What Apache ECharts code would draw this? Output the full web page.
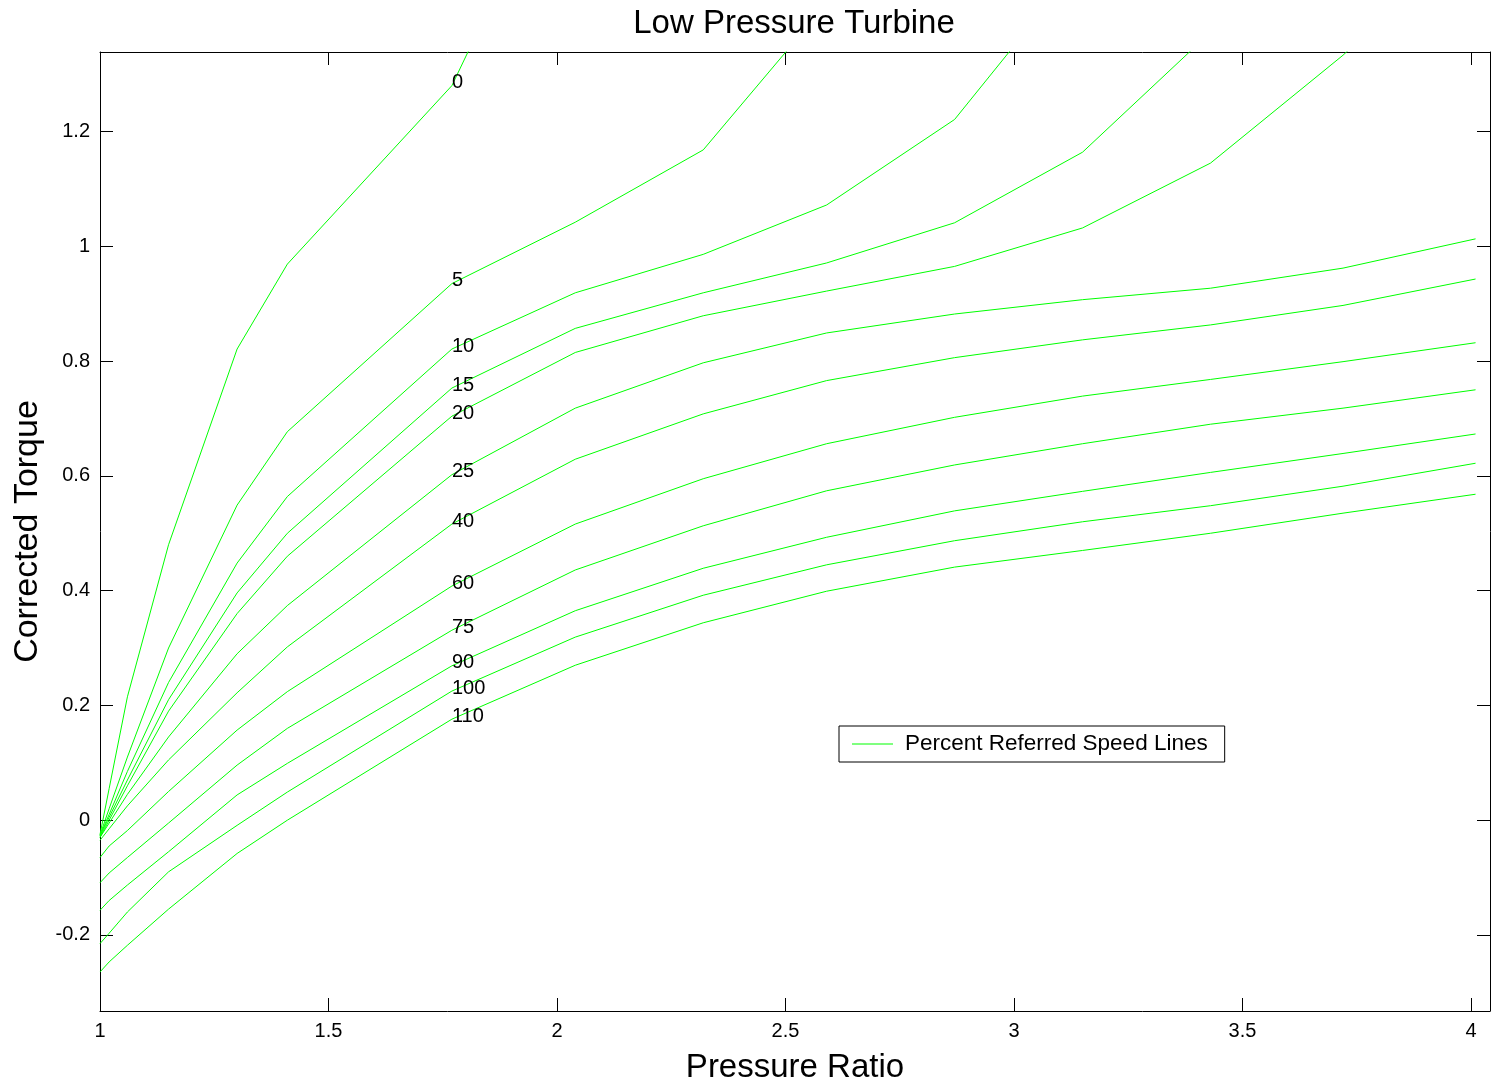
<!DOCTYPE html>
<html>
<head>
<meta charset="utf-8">
<title>Low Pressure Turbine</title>
<script src="https://cdn.jsdelivr.net/npm/echarts@6/dist/echarts.min.js"></script>
<style>
  html, body { margin: 0; padding: 0; background: #fff; }
  #map { width: 1492px; height: 1089px; }
</style>
</head>
<body>
<div id="map"></div>
<script>
// pressure ratio breakpoints of the map
var pressureRatio = [1.00, 1.02, 1.06, 1.15, 1.30, 1.41, 1.77, 2.04, 2.32, 2.59, 2.87, 3.15, 3.43, 3.72, 4.01];

// corrected torque per speed line (null = off the top of the plot)
var torque0   = [-0.025, 0.055, 0.215, 0.48, 0.821, 0.969, 1.280, 1.73, null, null, null, null, null, null, null];
var torque5   = [-0.026, 0.02, 0.11, 0.30, 0.549, 0.677, 0.935, 1.042, 1.168, 1.423, null, null, null, null, null];
var torque10  = [-0.027, 0.01, 0.085, 0.24, 0.448, 0.564, 0.821, 0.919, 0.986, 1.072, 1.221, 1.497, null, null, null];
var torque15  = [-0.028, 0.005, 0.07, 0.21, 0.396, 0.500, 0.753, 0.857, 0.919, 0.971, 1.041, 1.164, 1.373, null, null];
var torque20  = [-0.03, 0.0, 0.06, 0.19, 0.360, 0.460, 0.704, 0.815, 0.879, 0.922, 0.965, 1.032, 1.145, 1.333, 1.55];
var torque25  = [-0.03, -0.005, 0.045, 0.145, 0.29, 0.374, 0.602, 0.718, 0.797, 0.849, 0.882, 0.907, 0.927, 0.962, 1.013];
var torque40  = [-0.035, -0.015, 0.025, 0.105, 0.222, 0.302, 0.516, 0.629, 0.708, 0.766, 0.806, 0.837, 0.863, 0.897, 0.943];
var torque60  = [-0.065, -0.045, -0.018, 0.05, 0.157, 0.224, 0.408, 0.516, 0.595, 0.656, 0.702, 0.739, 0.768, 0.799, 0.832];
var torque75  = [-0.109, -0.092, -0.065, -0.005, 0.096, 0.160, 0.331, 0.436, 0.513, 0.574, 0.619, 0.656, 0.690, 0.718, 0.750];
var torque90  = [-0.157, -0.14, -0.113, -0.055, 0.044, 0.099, 0.269, 0.365, 0.439, 0.493, 0.539, 0.573, 0.606, 0.639, 0.673];
var torque100 = [-0.215, -0.197, -0.16, -0.09, -0.009, 0.049, 0.225, 0.319, 0.392, 0.445, 0.487, 0.52, 0.548, 0.582, 0.622];
var torque110 = [-0.2645, -0.247, -0.218, -0.155, -0.058, 0.0, 0.176, 0.270, 0.344, 0.399, 0.441, 0.47, 0.50, 0.535, 0.568];

var speedLabels = ['0', '5', '10', '15', '20', '25', '40', '60', '75', '90', '100', '110'];
var speedLines = [torque0, torque5, torque10, torque15, torque20, torque25, torque40, torque60, torque75, torque90, torque100, torque110];

var xTicks = [1, 1.5, 2, 2.5, 3, 3.5, 4];
var yTicks = [-0.2, 0, 0.2, 0.4, 0.6, 0.8, 1, 1.2];

var labelIndex = 6; // speed numbers written at PR = 1.77
var legendName = 'Percent Referred Speed Lines';
var font = '"Liberation Sans", Arial, sans-serif';

function buildSeries() {
    var out = [];
    for (var s = 0; s < speedLines.length; s++) {
        var vals = speedLines[s];
        var data = [];
        for (var i = 0; i < pressureRatio.length; i++) {
            if (vals[i] == null) break;
            if (i == labelIndex) {
                data.push({
                    value: [pressureRatio[i], vals[i]],
                    label: { show: true, formatter: speedLabels[s] }
                });
            } else {
                data.push([pressureRatio[i], vals[i]]);
            }
        }
        out.push({
            name: legendName,
            type: 'line',
            data: data,
            showSymbol: true,
            symbol: 'circle',
            symbolSize: 0,
            silent: true,
            clip: true,
            lineStyle: { color: '#00ff00', width: 1 },
            itemStyle: { color: '#00ff00' },
            label: {
                show: false,
                position: 'right',
                distance: 0,
                offset: [0, -3],
                color: '#000',
                fontFamily: font,
                fontSize: 20
            },
            emphasis: { disabled: true }
        });
    }
    return out;
}

var chart = echarts.init(document.getElementById('map'));
chart.setOption({
    animation: false,
    backgroundColor: '#fff',
    title: {
        text: 'Low Pressure Turbine',
        left: 789,
        textAlign: 'center',
        top: 2,
        textStyle: { fontFamily: font, fontSize: 33, fontWeight: 'normal', color: '#000' }
    },
    legend: {
        data: [legendName],
        left: 839,
        top: 726,
        orient: 'horizontal',
        backgroundColor: '#fff',
        borderColor: '#000',
        borderWidth: 1,
        borderRadius: 0,
        padding: [6.5, 17, 6.5, 13],
        icon: 'rect',
        itemWidth: 41,
        itemHeight: 1,
        selectedMode: false,
        textStyle: { fontFamily: font, fontSize: 22.5, lineHeight: 22, color: '#000', padding: [0, 0, 0, 7] }
    },
    grid: { left: 100, right: 2, top: 52, bottom: 77, containLabel: false },
    xAxis: [{
        type: 'value',
        min: 1,
        max: 4.0416,
        position: 'bottom',
        name: 'Pressure Ratio',
        nameLocation: 'middle',
        nameGap: 40,
        nameTextStyle: { fontFamily: font, fontSize: 33, color: '#000' },
        axisLine: { show: true, onZero: false, lineStyle: { color: '#000', width: 1 } },
        axisTick: { show: true, inside: true, length: 13, customValues: xTicks, lineStyle: { color: '#000' } },
        axisLabel: { show: true, customValues: xTicks, margin: 10, fontFamily: font, fontSize: 20, color: '#000' },
        splitLine: { show: false }
    }, {
        type: 'value',
        min: 1,
        max: 4.0416,
        position: 'top',
        axisLine: { show: true, onZero: false, lineStyle: { color: '#000', width: 1 } },
        axisTick: { show: true, inside: true, length: 13, customValues: xTicks, lineStyle: { color: '#000' } },
        axisLabel: { show: false },
        splitLine: { show: false }
    }],
    yAxis: [{
        type: 'value',
        min: -0.3325,
        max: 1.3386,
        position: 'left',
        name: 'Corrected Torque',
        nameLocation: 'middle',
        nameGap: 55,
        nameTextStyle: { fontFamily: font, fontSize: 34, color: '#000' },
        axisLine: { show: true, onZero: false, lineStyle: { color: '#000', width: 1 } },
        axisTick: { show: true, inside: true, length: 13, customValues: yTicks, lineStyle: { color: '#000' } },
        axisLabel: { show: true, customValues: yTicks, margin: 10, fontFamily: font, fontSize: 20, color: '#000' },
        splitLine: { show: false }
    }, {
        type: 'value',
        min: -0.3325,
        max: 1.3386,
        position: 'right',
        axisLine: { show: true, onZero: false, lineStyle: { color: '#000', width: 1 } },
        axisTick: { show: true, inside: true, length: 13, customValues: yTicks, lineStyle: { color: '#000' } },
        axisLabel: { show: false },
        splitLine: { show: false }
    }],
    series: buildSeries()
});
</script>
</body>
</html>
